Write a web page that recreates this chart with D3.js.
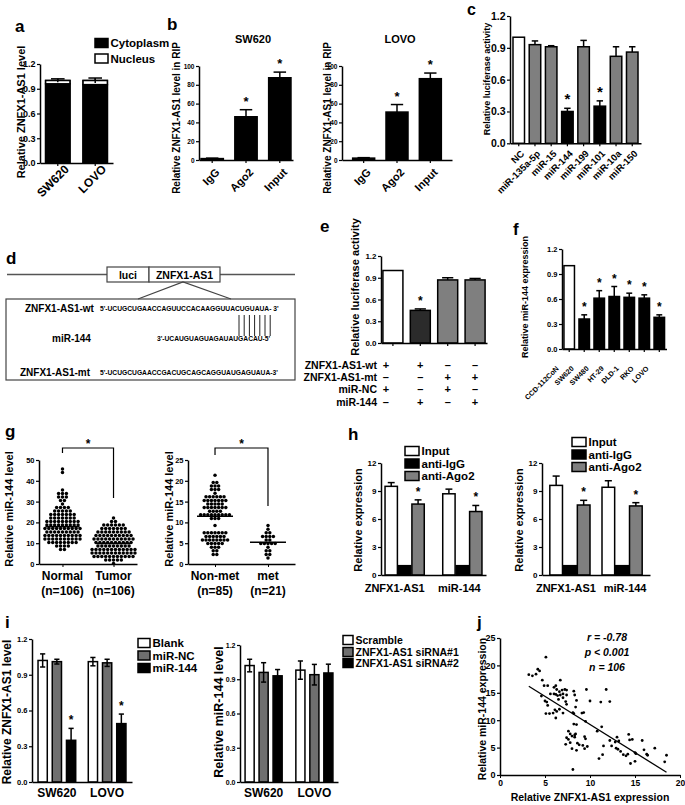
<!DOCTYPE html>
<html><head><meta charset="utf-8">
<script src="https://cdn.jsdelivr.net/npm/d3@7"></script>
<style>
body{margin:0;background:#fff}
svg{display:block;font-family:"Liberation Sans",Arial,Helvetica,sans-serif;font-weight:bold}
</style></head><body>
<svg id="chart" width="685" height="805"></svg>
<script>
// ================= DATA =================
const ratioTicks = [0, 0.3, 0.6, 0.9, 1.2];

// a
const aCats = ["SW620", "LOVO"];
const aCyto = [0.96, 0.95];
const aTotal = [1.00, 1.00];
const aErr = [0.02, 0.03];
const aLegend = ["Cytoplasm", "Nucleus"];

// b
const bCats = ["IgG", "Ago2", "Input"];
const bTicks = [0, 20, 40, 60, 80, 100];
const bSW620 = [1.5, 46, 87.5];
const bSW620Err = [0.5, 7.5, 6];
const bLOVO = [2, 51, 86.5];
const bLOVOErr = [0.5, 8, 6];
const bSig = [false, true, true];

// c
const cCats = ["NC", "miR-135a-5p", "miR-15", "miR-144", "miR-199", "miR-101", "miR-10a", "miR-150"];
const cVals = [1.0, 0.93, 0.91, 0.30, 0.91, 0.35, 0.82, 0.86];
const cErr = [0, 0.035, 0.01, 0.03, 0.06, 0.05, 0.09, 0.05];
const cSig = [false, false, false, true, false, true, false, false];
const cFill = ["#ffffff", "#7f7f7f", "#7f7f7f", "#000000", "#7f7f7f", "#000000", "#7f7f7f", "#7f7f7f"];

// d
const dBoxes = ["luci", "ZNFX1-AS1"];
const dNames = ["ZNFX1-AS1-wt", "miR-144", "ZNFX1-AS1-mt"];
const dSeqs = ["5'-UCUGCUGAACCAGUUCCACAAGGUUACUGUAUA- 3'", "3'-UCAUGUAGUAGAUAUGACAU-5'", "5'-UCUGCUGAACCGACUGCAGCAGGUAUGAGUAUA-3'"];
const dPairs = 7;

// e
const eCats = ["g1", "g2", "g3", "g4"];
const eVals = [1.0, 0.45, 0.87, 0.87];
const eErr = [0, 0.02, 0.03, 0.02];
const eSig = [false, true, false, false];
const eFill = ["#ffffff", "#2b2b2b", "#7f7f7f", "#7f7f7f"];
const eRows = ["ZNFX1-AS1-wt", "ZNFX1-AS1-mt", "miR-NC", "miR-144"];
const eTable = [["+", "+", "\u2013", "\u2013"], ["\u2013", "\u2013", "+", "+"], ["+", "\u2013", "+", "\u2013"], ["\u2013", "+", "\u2013", "+"]];

// f
const fCats = ["CCD-112CoN", "SW620", "SW480", "HT-29", "DLD-1", "RKO", "LOVO"];
const fVals = [1.0, 0.36, 0.61, 0.63, 0.62, 0.61, 0.38];
const fErr = [0, 0.05, 0.09, 0.12, 0.05, 0.04, 0.03];
const fSig = [false, true, true, true, true, true, true];
const fFill = ["#ffffff", "#000", "#000", "#000", "#000", "#000", "#000"];

// g
const gLeftCats = ["Normal", "Tumor"];
const gLeftN = ["(n=106)", "(n=106)"];
const gLeftTicks = [0, 10, 20, 30, 40, 50];
const gNormal = [46.5,44.5,35.5,34.3,34.0,33.8,32.8,32.5,32.3,31.0,30.5,29.5,28.0,27.5,27.2,26.5,26.0,25.8,25.5,25.0,24.8,24.5,24.2,24.0,23.8,23.5,23.3,23.0,22.8,22.5,22.2,22.0,21.5,21.2,21.0,20.8,20.5,20.2,20.0,19.8,19.5,19.2,19.0,18.8,18.5,18.3,18.0,17.8,17.5,17.5,17.3,17.0,16.8,16.5,16.3,16.0,15.8,15.5,15.3,15.0,14.8,14.5,14.3,14.0,13.8,13.5,13.3,13.0,12.8,12.5,12.3,12.0,11.8,11.5,11.3,11.0,10.8,10.5,10.3,10.0,9.8,9.5,9.0,8.8,8.5,8.0,7.8,7.5,21.8,20.6,19.6,19.0,18.2,17.6,16.9,16.2,15.6,14.9,14.1,13.6,13.1,12.6,12.1,11.6,10.9,22.6];
const gTumor = [21.5,20.0,19.8,19.5,19.3,19.0,18.5,18.3,18.0,17.8,17.5,17.3,17.0,16.8,16.5,16.3,16.0,15.8,15.5,15.3,15.0,14.8,14.5,14.3,14.0,13.8,13.5,13.3,13.0,12.8,12.5,12.3,12.0,11.8,11.5,11.3,11.0,10.8,10.5,10.3,10.0,9.8,9.5,9.3,9.0,8.8,8.5,8.3,8.0,7.8,7.5,7.3,7.0,6.8,6.5,6.3,6.0,5.8,5.5,5.3,5.0,4.8,4.5,4.3,4.0,3.8,3.5,3.3,3.0,2.8,2.5,2.2,2.0,1.5,1.0,16.2,15.2,14.2,13.2,12.2,11.2,10.2,9.2,8.2,7.2,6.2,5.2,4.2,3.2,6.6,5.6,4.6,3.6,7.6,8.6,9.6,12.6,13.6,14.6,11.6,10.6,5.9,4.9,6.9,2.6,3.9];
const gRightCats = ["Non-met", "met"];
const gRightN = ["(n=85)", "(n=21)"];
const gRightTicks = [0, 5, 10, 15, 20, 25];
const gNonMet = [21.5,19.6,19.3,18.7,18.5,18.3,18.6,17.6,17.4,17.5,16.4,16.2,16.3,16.1,16.5,16.0,15.6,15.4,15.5,15.3,15.7,15.5,15.4,14.6,14.4,14.5,14.7,14.3,13.6,13.4,13.5,13.7,13.3,13.5,13.6,12.6,12.4,12.5,12.7,11.6,11.4,11.5,11.3,11.7,11.5,11.4,11.6,11.2,11.5,11.3,11.4,9.3,7.8,7.6,7.7,7.9,7.5,7.1,6.9,7.0,7.2,6.8,7.0,6.3,6.1,6.2,6.4,6.0,6.2,5.6,5.4,5.5,5.3,5.5,4.8,4.9,4.7,4.8,4.1,3.9,4.0,3.3,3.2,2.6,2.5];
const gMet = [9.0,8.5,7.5,7.2,7.0,6.8,6.5,6.3,6.0,5.5,5.2,5.0,5.0,4.8,4.5,4.0,3.5,3.0,2.5,2.0,1.2];

// h
const hCats = ["ZNFX1-AS1", "miR-144"];
const hSeries = ["Input", "anti-IgG", "anti-Ago2"];
const hFill = ["#ffffff", "#000000", "#7f7f7f"];
const hTicks = [0, 3, 6, 9, 12];
const hLeftVals = [[9.5, 1.0, 7.6], [8.7, 1.0, 6.8]];
const hLeftErr = [[0.4, 0, 0.45], [0.5, 0, 0.65]];
const hRightVals = [[9.6, 1.0, 7.5], [9.4, 1.0, 7.4]];
const hRightErr = [[1.0, 0, 0.5], [0.7, 0, 0.35]];
const hSig = [false, false, true];

// i
const iCats = ["SW620", "LOVO"];
const iLeftSeries = ["Blank", "miR-NC", "miR-144"];
const iLeftFill = ["#ffffff", "#6f6f6f", "#000000"];
const iLeftVals = [[1.02, 1.01, 0.35], [1.01, 1.00, 0.49]];
const iLeftErr = [[0.055, 0.02, 0.10], [0.035, 0.03, 0.08]];
const iLeftSig = [false, false, true];
const iRightSeries = ["Scramble", "ZNFX1-AS1 siRNA#1", "ZNFX1-AS1 siRNA#2"];
const iRightFill = ["#ffffff", "#6f6f6f", "#000000"];
const iRightVals = [[1.02, 0.96, 0.93], [0.98, 0.94, 0.955]];
const iRightErr = [[0.055, 0.085, 0.055], [0.08, 0.09, 0.077]];

// j
const jXTicks = [0, 5, 10, 15, 20];
const jYTicks = [0, 5, 10, 15, 20, 25];
const jStats = ["r = -0.78", "p < 0.001", "n = 106"];
const jFit = [[3.2, 16.2], [18.5, 0.5]];
const jPoints = [[3.2,18.3],[3.6,18.1],[4.0,18.4],[4.2,19.3],[4.4,19.0],[4.7,17.3],[5.1,21.5],[4.9,16.3],[5.3,16.3],[4.6,14.4],[5.0,13.5],[5.2,13.3],[5.3,12.7],[5.1,11.2],[5.5,11.2],[5.9,11.3],[6.1,11.9],[6.3,11.6],[6.2,10.4],[6.6,12.0],[7.0,11.3],[6.0,14.8],[6.2,14.7],[6.4,14.5],[6.7,14.6],[7.0,14.8],[7.4,14.6],[6.0,16.0],[6.2,16.3],[6.3,15.6],[6.6,15.2],[6.9,15.5],[7.2,15.6],[7.4,15.5],[6.7,17.3],[7.3,13.4],[7.4,12.9],[6.5,13.8],[7.0,14.1],[5.6,14.8],
[8.2,15.3],[8.3,14.6],[8.4,12.4],[8.5,13.6],[8.2,11.2],[8.1,11.4],[9.1,11.3],[9.3,11.4],[9.6,15.6],[9.5,9.8],[8.2,9.3],[8.5,9.2],[10.0,13.5],
[7.6,8.0],[7.8,7.5],[7.6,6.5],[7.3,5.6],[7.4,6.8],[8.0,7.1],[8.3,6.9],[8.4,7.5],[8.0,4.8],[8.5,4.5],[8.8,5.5],[8.1,1.0],[8.6,5.8],[9.2,5.4],[9.4,7.0],[9.5,6.6],[9.7,5.2],[9.4,4.8],[8.3,7.3],[7.8,5.9],
[11.8,15.6],[11.2,13.3],[12.2,13.4],[11.3,8.8],[11.0,3.0],[11.4,3.7],[11.5,5.3],[12.2,6.3],[12.4,5.3],[12.8,6.0],[13.0,6.9],[13.2,6.2],[13.1,4.7],[13.4,4.3],[13.7,3.7],[14.0,3.5],[14.2,3.8],[14.3,7.4],[14.4,6.4],[14.7,6.5],[14.5,2.1],[15.0,4.1],[15.1,3.9],[15.0,2.5],[15.8,6.3],[16.0,4.6],[16.3,3.8],[16.4,3.6],[17.2,4.9],[18.3,2.4],[18.5,3.6],[12.9,4.9],[10.8,8.0]];

// ================= HELPERS =================
const svg = d3.select("#chart");
const f1 = d3.format(".1f"), fd = d3.format("d");

function txt(g, x, y, s, fs, anchor) {
  return g.append("text").attr("x", x).attr("y", y).attr("font-size", fs)
    .attr("text-anchor", anchor || "start").text(s);
}
function vlabel(g, x, y, s, fs) {
  g.append("text").attr("transform", `translate(${x},${y}) rotate(-90)`)
    .attr("text-anchor", "middle").attr("font-size", fs).text(s);
}
function yAxis(g, scale, x, ticks, fmt, fs) {
  const ax = g.append("g").attr("transform", `translate(${x},0)`)
    .call(d3.axisLeft(scale).tickValues(ticks).tickFormat(fmt).tickSize(3).tickSizeOuter(0).tickPadding(1.5));
  ax.attr("font-family", null).attr("font-size", fs);
  ax.select(".domain").attr("stroke-width", 1.5);
  ax.selectAll(".tick line").attr("stroke-width", 1.2);
  return ax;
}
function xAxisBand(g, scale, y) {
  const ax = g.append("g").attr("transform", `translate(0,${y})`)
    .call(d3.axisBottom(scale).tickSize(3).tickSizeOuter(0).tickFormat(""));
  ax.select(".domain").attr("stroke-width", 1.5);
  ax.selectAll(".tick line").attr("stroke-width", 1.2);
  return ax;
}
function rotLabels(g, scale, cats, y0, fs, dx, dy) {
  g.selectAll(null).data(cats).join("text")
    .attr("transform", d => `translate(${scale(d) + scale.bandwidth() / 2 + dx},${y0 + dy}) rotate(-45)`)
    .attr("text-anchor", "end").attr("font-size", fs).text(d => d);
}
// items: {x, w, v, e, fill, sig}
function drawBars(g, y, items, both, sfs) {
  g.selectAll(null).data(items).join("rect")
    .attr("x", d => d.x).attr("width", d => d.w)
    .attr("y", d => y(d.v)).attr("height", d => y(0) - y(d.v))
    .attr("fill", d => d.fill).attr("stroke", "#000").attr("stroke-width", 1.5);
  const eb = items.filter(d => d.e > 0);
  const gg = g.append("g").attr("stroke", "#000").attr("stroke-width", 1.5);
  gg.selectAll(null).data(eb).join("line")
    .attr("x1", d => d.x + d.w / 2).attr("x2", d => d.x + d.w / 2)
    .attr("y1", d => y(d.v + d.e)).attr("y2", d => both ? y(d.v - d.e) : y(d.v));
  gg.selectAll(null).data(eb).join("line")
    .attr("x1", d => d.x + d.w * 0.22).attr("x2", d => d.x + d.w * 0.78)
    .attr("y1", d => y(d.v + d.e)).attr("y2", d => y(d.v + d.e));
  if (both) gg.selectAll(null).data(eb).join("line")
    .attr("x1", d => d.x + d.w * 0.22).attr("x2", d => d.x + d.w * 0.78)
    .attr("y1", d => y(d.v - d.e)).attr("y2", d => y(d.v - d.e));
  g.selectAll(null).data(items.filter(d => d.sig)).join("text")
    .attr("x", d => d.x + d.w / 2).attr("y", d => y(d.v + d.e) - 4)
    .attr("text-anchor", "middle").attr("font-size", sfs || 13).text("*");
}
function simpleItems(x, cats, vals, errs, fills, sig) {
  return cats.map((c, i) => ({ x: x(c), w: x.bandwidth(), v: vals[i], e: errs[i], fill: fills[i], sig: sig ? sig[i] : false }));
}
function groupItems(x0, x1, cats, series, vals, errs, fills, sig) {
  const out = [];
  cats.forEach((c, i) => series.forEach((s, j) => out.push({
    x: x0(c) + x1(s), w: x1.bandwidth(), v: vals[i][j], e: errs[i][j], fill: fills[j], sig: sig ? sig[j] : false })));
  return out;
}
function legend(g, x, ys, labels, fills, fs, w, h) {
  g.selectAll(null).data(labels).join("rect")
    .attr("x", x).attr("y", (d, i) => ys[i] - h / 2).attr("width", w).attr("height", h)
    .attr("fill", (d, i) => fills[i]).attr("stroke", "#000").attr("stroke-width", 1.5);
  g.selectAll(null).data(labels).join("text")
    .attr("x", x + w + 2.5).attr("y", (d, i) => ys[i] + fs * 0.36).attr("font-size", fs).text(d => d);
}
function swarm(values, y, cx, rowH, dx) {
  const rows = d3.group(values, v => Math.round(y(v) / rowH));
  const pts = [];
  for (const [r, arr] of rows) arr.forEach((v, i) => pts.push({ x: cx + (i - (arr.length - 1) / 2) * dx, y: r * rowH }));
  return pts;
}
function panelLabel(t, x, y, fs) { txt(svg, x, y, t, fs || 17); }

// ================= PANEL a =================
{
  const g = svg.append("g");
  const y = d3.scaleLinear().domain([0, 1.2]).range([163, 64]);
  const x = d3.scaleBand().domain(aCats).range([40, 113]).paddingInner(0.35).paddingOuter(0.15);
  g.selectAll(null).data(aCats).join("rect")
    .attr("x", d => x(d)).attr("width", x.bandwidth())
    .attr("y", (d, i) => y(aCyto[i])).attr("height", (d, i) => y(0) - y(aCyto[i]))
    .attr("fill", "#000").attr("stroke", "#000").attr("stroke-width", 1.5);
  drawBars(g, y, aCats.map((c, i) => ({ x: x(c), w: x.bandwidth(), v: aTotal[i], e: aErr[i], fill: "none" })), true);
  g.selectAll(null).data(aCats).join("rect")
    .attr("x", d => x(d)).attr("width", x.bandwidth())
    .attr("y", (d, i) => y(aTotal[i])).attr("height", (d, i) => y(aCyto[i]) - y(aTotal[i]))
    .attr("fill", "#fff").attr("stroke", "#000").attr("stroke-width", 1.5);
  const gg = g.append("g").attr("stroke", "#000").attr("stroke-width", 1.5);
  gg.selectAll(null).data(aCats).join("line")
    .attr("x1", d => x(d) + x.bandwidth() / 2).attr("x2", d => x(d) + x.bandwidth() / 2)
    .attr("y1", (d, i) => y(aTotal[i] + aErr[i])).attr("y2", (d, i) => y(aTotal[i] - aErr[i]));
  yAxis(g, y, 40, ratioTicks, f1, 9);
  xAxisBand(g, x, 163);
  rotLabels(g, x, aCats, 163, 12, 12, 7);
  vlabel(g, 25, 112, "Relative ZNFX1-AS1 level", 11);
  legend(g, 95, [43, 58.5], aLegend, ["#000", "#fff"], 11.5, 13, 9);
  panelLabel("a", 15, 32);
}

// ================= PANEL b =================
function bPanel(axX, rEnd, po, vals, errs, title, titleX, labX) {
  const g = svg.append("g");
  const y = d3.scaleLinear().domain([0, 100]).range([160, 66]);
  const x = d3.scaleBand().domain(bCats).range([axX, rEnd]).paddingInner(0.34).paddingOuter(po);
  drawBars(g, y, simpleItems(x, bCats, vals, errs, ["#000", "#000", "#000"], bSig), false, 13);
  yAxis(g, y, axX, bTicks, fd, 6.5);
  xAxisBand(g, x, 160);
  rotLabels(g, x, bCats, 160, 11, 8, 13);
  vlabel(g, labX, 118, "Relative ZNFX1-AS1 level in RIP", 10);
  txt(g, titleX, 43, title, 11, "middle");
}
bPanel(199, 293, 0.06, bSW620, bSW620Err, "SW620", 253, 180);
bPanel(342, 452, 0.32, bLOVO, bLOVOErr, "LOVO", 400, 331);
panelLabel("b", 167, 30);

// ================= PANEL c =================
{
  const g = svg.append("g");
  const y = d3.scaleLinear().domain([0, 1.2]).range([143.3, 16]);
  const x = d3.scaleBand().domain(cCats).range([510, 641]).paddingInner(0.29).paddingOuter(0.185);
  drawBars(g, y, simpleItems(x, cCats, cVals, cErr, cFill, cSig), false, 15);
  yAxis(g, y, 510, ratioTicks, f1, 10.5);
  xAxisBand(g, x, 143.3);
  rotLabels(g, x, cCats, 143.3, 9.5, 6, 11);
  vlabel(g, 490, 79, "Relative luciferase activity", 9);
  panelLabel("c", 467, 15, 16);
}

// ================= PANEL d =================
{
  const g = svg.append("g");
  g.append("line").attr("x1", 7).attr("x2", 295).attr("y1", 274.5).attr("y2", 274.5).attr("stroke", "#555").attr("stroke-width", 1.5);
  const bx = [107, 149, 220];
  g.selectAll(null).data(dBoxes).join("rect")
    .attr("x", (d, i) => bx[i]).attr("width", (d, i) => bx[i + 1] - bx[i]).attr("y", 267).attr("height", 15)
    .attr("fill", "#fff").attr("stroke", "#444").attr("stroke-width", 1.2);
  g.selectAll(null).data(dBoxes).join("text")
    .attr("x", (d, i) => (bx[i] + bx[i + 1]) / 2).attr("y", 278.5).attr("text-anchor", "middle")
    .attr("font-size", 10.5).text(d => d);
  g.append("path").attr("d", "M138,299L183,282L231,299").attr("fill", "none").attr("stroke", "#444").attr("stroke-width", 1.2);
  g.append("rect").attr("x", 6).attr("y", 299).attr("width", 289).attr("height", 81).attr("fill", "none").attr("stroke", "#444").attr("stroke-width", 1.2);
  const nameX = [25, 52, 20], nameY = [312, 342, 376], seqX = [100, 157, 100];
  g.selectAll(null).data(dNames).join("text").attr("x", (d, i) => nameX[i]).attr("y", (d, i) => nameY[i]).attr("font-size", 10).text(d => d);
  g.selectAll(null).data(dSeqs).join("text").attr("x", (d, i) => seqX[i]).attr("y", (d, i) => nameY[i] - 1).attr("font-size", 6.7).text(d => d);
  g.selectAll(null).data(d3.range(dPairs)).join("line")
    .attr("x1", d => 239 + d * 5.2).attr("x2", d => 239 + d * 5.2).attr("y1", 315).attr("y2", 336)
    .attr("stroke", "#222").attr("stroke-width", 1);
  panelLabel("d", 6, 264);
}

// ================= PANEL e =================
{
  const g = svg.append("g");
  const y = d3.scaleLinear().domain([0, 1.2]).range([343, 256]);
  const x = d3.scaleBand().domain(eCats).range([381, 487]).paddingInner(0.27).paddingOuter(0.07);
  drawBars(g, y, simpleItems(x, eCats, eVals, eErr, eFill, eSig), false, 12);
  yAxis(g, y, 381, ratioTicks, f1, 8);
  xAxisBand(g, x, 343);
  vlabel(g, 359, 287, "Relative luciferase activity", 11);
  const rowY = [369, 381, 393, 406];
  g.selectAll(null).data(eRows).join("text").attr("x", 377).attr("y", (d, i) => rowY[i])
    .attr("text-anchor", "end").attr("font-size", 10.5).text(d => d);
  eTable.forEach((row, i) => {
    g.selectAll(null).data(row).join("text")
      .attr("x", (d, j) => x(eCats[j]) + x.bandwidth() / 2 - (j === 0 ? 7 : 0)).attr("y", rowY[i])
      .attr("text-anchor", "middle").attr("font-size", 11).text(d => d);
  });
  panelLabel("e", 320, 232);
}

// ================= PANEL f =================
{
  const g = svg.append("g");
  const y = d3.scaleLinear().domain([0, 1.2]).range([349, 249]);
  const x = d3.scaleBand().domain(fCats).range([562, 666.5]).paddingInner(0.3).paddingOuter(0.13);
  drawBars(g, y, simpleItems(x, fCats, fVals, fErr, fFill, fSig), false, 12);
  yAxis(g, y, 562, ratioTicks, f1, 7.5);
  xAxisBand(g, x, 349);
  rotLabels(g, x, fCats, 349, 7.2, -10, 20);
  vlabel(g, 528, 297, "Relative miR-144 expression", 9);
  panelLabel("f", 513, 235);
}

// ================= PANEL g =================
function gPanel(axX, axEnd, pad, domainMax, ticks, cats, nLabels, series, rowH, dx, medHalf, labX, bracket) {
  const g = svg.append("g");
  const y = d3.scaleLinear().domain([0, domainMax]).range([564, 460]);
  const x = d3.scalePoint().domain(cats).range([axX, axEnd]).padding(pad);
  series.forEach((vals, k) => {
    const pts = swarm(vals, y, x(cats[k]), rowH, dx);
    g.selectAll(null).data(pts).join("circle").attr("cx", d => d.x).attr("cy", d => d.y).attr("r", 1.75).attr("fill", "#000");
    const m = d3.median(vals);
    g.append("line").attr("x1", x(cats[k]) - medHalf).attr("x2", x(cats[k]) + medHalf)
      .attr("y1", y(m)).attr("y2", y(m)).attr("stroke", "#000").attr("stroke-width", 1.5);
  });
  yAxis(g, y, axX, ticks, fd, 7.5);
  const ax = g.append("g").attr("transform", "translate(0,564)")
    .call(d3.axisBottom(x).tickSize(3).tickSizeOuter(0).tickFormat(""));
  ax.select(".domain").attr("stroke-width", 1.5);
  g.selectAll(null).data(cats).join("text").attr("x", d => x(d)).attr("y", 580).attr("text-anchor", "middle").attr("font-size", 12).text(d => d);
  g.selectAll(null).data(nLabels).join("text").attr("x", (d, i) => x(cats[i])).attr("y", 595).attr("text-anchor", "middle").attr("font-size", 12).text(d => d);
  vlabel(g, labX, 509, "Relative miR-144 level", 11);
  const xa = x(cats[0]), xb = x(cats[1]);
  g.append("path").attr("d", `M${xa},${bracket[0]}V448H${xb}V${bracket[1]}`).attr("fill", "none").attr("stroke", "#000").attr("stroke-width", 1.2);
  txt(g, (xa + xb) / 2, 448, "*", 12, "middle");
}
gPanel(39, 137, 0.46, 50, gLeftTicks, gLeftCats, gLeftN, [gNormal, gTumor], 3.5, 3.9, 17, 13, [453, 498]);
gPanel(188, 295, 0.51, 25, gRightTicks, gRightCats, gRightN, [gNonMet, gMet], 3.6, 3.6, 18, 173, [455, 506]);
panelLabel("g", 5, 437);

// ================= PANEL h =================
function hPanel(axX, rEnd, pi, po, vals, errs, legX, legY, labShift) {
  const g = svg.append("g");
  const y = d3.scaleLinear().domain([0, 12]).range([575, 463]);
  const x0 = d3.scaleBand().domain(hCats).range([axX, rEnd]).paddingInner(pi).paddingOuter(po);
  const x1 = d3.scaleBand().domain(hSeries).range([0, x0.bandwidth()]).paddingInner(0.08);
  drawBars(g, y, groupItems(x0, x1, hCats, hSeries, vals, errs, hFill, hSig), false, 12);
  yAxis(g, y, axX, hTicks, fd, 8);
  const ax = g.append("g").attr("transform", "translate(0,575)")
    .call(d3.axisBottom(x0).tickSize(0).tickSizeOuter(0).tickFormat(""));
  ax.select(".domain").attr("stroke-width", 1.5);
  g.selectAll(null).data(hCats).join("text").attr("x", (d, i) => x0(d) + x0.bandwidth() / 2 + labShift[i]).attr("y", 592)
    .attr("text-anchor", "middle").attr("font-size", 11).text(d => d);
  vlabel(g, axX - 19, 520, "Relative expression", 11);
  legend(g, legX, legY, hSeries, hFill, 11.5, 14, 9);
}
hPanel(381, 486, 0.32, 0.07, hLeftVals, hLeftErr, 405, [451, 463.5, 476], [-10, -3]);
hPanel(542, 650, 0.23, 0.15, hRightVals, hRightErr, 572, [442, 454.5, 467], [-4, 3]);
panelLabel("h", 348, 440);

// ================= PANEL i =================
function iPanel(axX, rEnd, pi, po, yTop, series, fills, vals, errs, sig, tfs, labX, label, lfs, legX, legY, legFs, legW) {
  const g = svg.append("g");
  const y = d3.scaleLinear().domain([0, 1.2]).range([782, yTop]);
  const x0 = d3.scaleBand().domain(iCats).range([axX, rEnd]).paddingInner(pi).paddingOuter(po);
  const x1 = d3.scaleBand().domain(series).range([0, x0.bandwidth()]).paddingInner(0.35);
  drawBars(g, y, groupItems(x0, x1, iCats, series, vals, errs, fills, sig), true, 12);
  yAxis(g, y, axX, ratioTicks, f1, tfs);
  const ax = g.append("g").attr("transform", "translate(0,782)")
    .call(d3.axisBottom(x0).tickSize(0).tickSizeOuter(0).tickFormat(""));
  ax.select(".domain").attr("stroke-width", 1.5);
  g.selectAll(null).data(iCats).join("text").attr("x", d => x0(d) + x0.bandwidth() / 2).attr("y", 797)
    .attr("text-anchor", "middle").attr("font-size", 12).text(d => d);
  vlabel(g, labX, 712, label, lfs);
  legend(g, legX, legY, series, fills, legFs, legW, 9);
}
iPanel(32, 132, 0.25, 0.12, 639, iLeftSeries, iLeftFill, iLeftVals, iLeftErr, iLeftSig, 7.5, 11, "Relative ZNFX1-AS1 level", 12, 138, [643, 655.5, 668], 11.5, 12);
iPanel(240, 338, 0.27, 0.1, 645, iRightSeries, iRightFill, iRightVals, iRightErr, null, 7, 223, "Relative miR-144 level", 12.5, 343, [640, 652, 663], 10.5, 10);
panelLabel("i", 5, 628);

// ================= PANEL j =================
{
  const g = svg.append("g");
  const x = d3.scaleLinear().domain([0, 20]).range([500, 680]);
  const y = d3.scaleLinear().domain([0, 25]).range([775, 638]);
  g.selectAll(null).data(jPoints).join("circle").attr("cx", d => x(d[0])).attr("cy", d => y(d[1])).attr("r", 1.4).attr("fill", "#000");
  g.append("line").attr("x1", x(jFit[0][0])).attr("y1", y(jFit[0][1])).attr("x2", x(jFit[1][0])).attr("y2", y(jFit[1][1]))
    .attr("stroke", "#000").attr("stroke-width", 1.3);
  yAxis(g, y, 500, jYTicks, fd, 9);
  const ax = g.append("g").attr("transform", "translate(0,775)")
    .call(d3.axisBottom(x).tickValues(jXTicks).tickFormat(fd).tickSize(3).tickSizeOuter(0).tickPadding(1.5));
  ax.attr("font-family", null).attr("font-size", 8.5);
  ax.select(".domain").attr("stroke-width", 1.5);
  vlabel(g, 486, 709, "Relative miR-144 expression", 10.5);
  txt(g, 590, 801, "Relative ZNFX1-AS1 expression", 10.5, "middle");
  g.selectAll(null).data(jStats).join("text").attr("x", 607).attr("y", (d, i) => 641 + i * 15)
    .attr("text-anchor", "middle").attr("font-size", 10.5).attr("font-style", "italic").text(d => d);
  panelLabel("j", 477, 628);
}
</script>
</body></html>
